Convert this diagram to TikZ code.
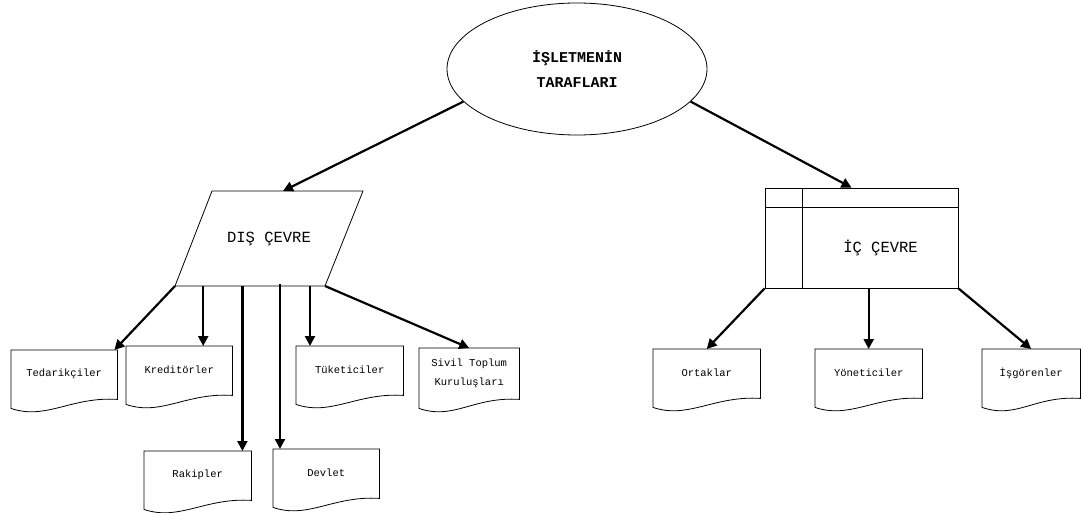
\documentclass[tikz,border=0pt]{standalone}
\usepackage{fontspec}
\setmainfont{Liberation Mono}
\usepackage{tikz}
\usetikzlibrary{shapes.geometric,arrows.meta}

\tikzset{
  doc/.style={minimum width=106pt, minimum height=48pt, inner sep=0pt, anchor=north west, align=center, font=\fontsize{10.5}{19}\selectfont},
  arr/.style={line width=2.2pt, -{Triangle[length=10pt,width=10pt]}},
  thin box/.style={draw, line width=0.8pt}
}
\newcommand\docedge[1]{%
  \draw[line width=0.8pt] (#1.north west) -- (#1.north east) -- ([yshift=-1pt]#1.south east)
    .. controls +(-46pt,3pt) and +(35pt,-12pt) .. ([yshift=-10pt]#1.south west) -- cycle;}

\begin{document}
\begin{tikzpicture}[x=1pt,y=-1pt]
      \useasboundingbox (0,0) rectangle (1081,513);
      \node[name=taraf, ellipse, draw, line width=0.8pt, minimum width=260pt, minimum height=132pt, inner sep=0pt, align=center, font=\fontsize{15}{25}\selectfont\bfseries] at (577,69) {İŞLETMENİN\\TARAFLARI};
      \coordinate (dis tl) at (212,191);
      \coordinate (dis tr) at (363,191);
      \coordinate (dis br) at (325,286);
      \coordinate (dis bl) at (175,286);
      \coordinate (dis top) at (283,191);
      \draw[line width=0.8pt] (dis tl) -- (dis tr) -- (dis br) -- (dis bl) -- cycle;
      \node[name=dis, font=\fontsize{15.5}{18}\selectfont] at (269,238.5) {DIŞ ÇEVRE};
      \node[name=ic, thin box, minimum width=193pt, minimum height=100pt] at (861.5,238) {};
      \draw[line width=0.8pt] ([yshift=-20pt]ic.north west) -- ([yshift=-20pt]ic.north east);
      \draw[line width=0.8pt] ([xshift=38pt]ic.north west) -- ([xshift=38pt]ic.south west);
      \node[name=ictext, font=\fontsize{15.5}{18}\selectfont] at (880.5,248) {İÇ ÇEVRE};

      \node[doc, name=ted] at (11,350) {Tedarikçiler};
      \node[doc, name=kred] at (126,346) {Kreditörler};
      \node[doc, name=rak, minimum width=107pt] at (144,451) {Rakipler};
      \node[doc, name=dev] at (273,449) {Devlet};
      \node[doc, name=tuk, minimum width=107pt] at (296,346) {Tüketiciler};
      \node[doc, name=siv, minimum width=100pt, minimum height=50pt] at (419,348) {Sivil Toplum\\Kuruluşları};
      \node[doc, name=ort, minimum width=107pt] at (653,349) {Ortaklar};
      \node[doc, name=yon, minimum width=107pt] at (815,349) {Yöneticiler};
      \node[doc, name=isg, minimum width=98pt] at (982,349) {İşgörenler};
      \docedge{ted}
      \docedge{kred}
      \docedge{rak}
      \docedge{dev}
      \docedge{tuk}
      \docedge{siv}
      \docedge{ort}
      \docedge{yon}
      \docedge{isg}

      \draw[arr] (taraf.196) -- (dis top);
      \draw[arr] (taraf.344) -- ([xshift=-10pt]ic.north);

      \draw[arr] (dis bl) -- ([xshift=-3pt]ted.north east);
      \draw[arr] ([xshift=24pt]kred.north |- dis bl) -- ([xshift=24pt]kred.north);
      \draw[arr] ([xshift=-9pt]rak.north east |- dis bl) -- ([xshift=-9pt]rak.north east);
      \draw[arr] ([xshift=7pt,yshift=2pt]dev.north west |- dis bl) -- ([xshift=7pt]dev.north west);
      \draw[arr] ([xshift=14pt]tuk.north west |- dis bl) -- ([xshift=14pt]tuk.north west);
      \draw[arr] (dis br) -- (siv.north);

      \draw[arr] (ic.south west) -- (ort.north);
      \draw[arr] (yon.north |- ic.south) -- (yon.north);
      \draw[arr] (ic.south east) -- (isg.north);
    \end{tikzpicture}
\end{document}
